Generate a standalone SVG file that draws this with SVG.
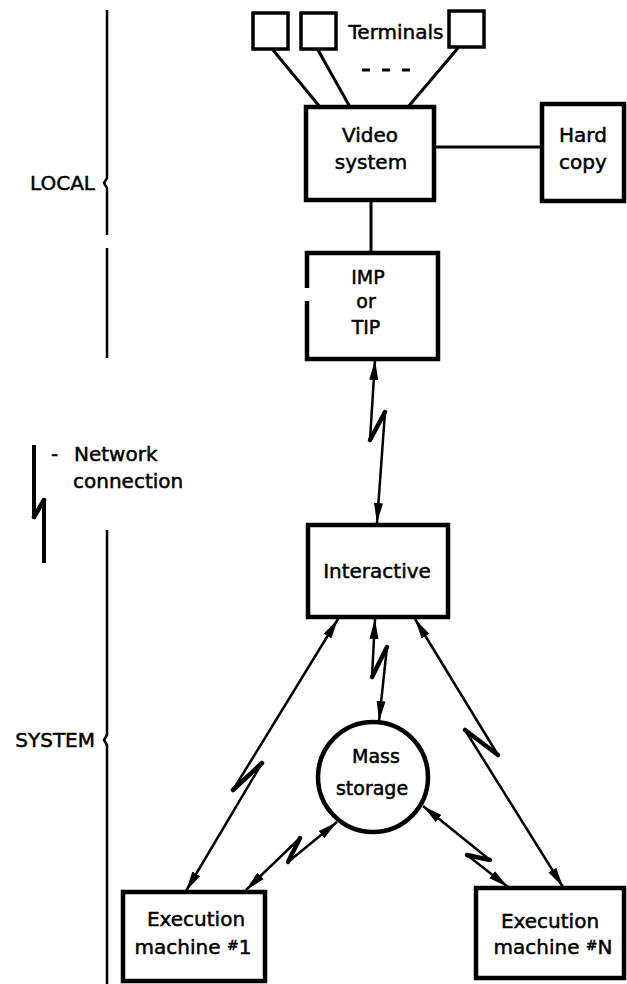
<svg xmlns="http://www.w3.org/2000/svg" width="627" height="984" viewBox="0 0 627 984">
<style>
.box{fill:#fff;stroke:#000;stroke-width:4.5}
.tbox{fill:#fff;stroke:#000;stroke-width:3.5}
.ln{fill:none;stroke:#000;stroke-width:3}
.cn{fill:none;stroke:#000;stroke-width:2.5;stroke-linejoin:round}
.zig{fill:none;stroke:#000;stroke-width:4.5;stroke-linecap:round}
.br{fill:none;stroke:#000;stroke-width:2.5}
text{font-family:"DejaVu Sans","Liberation Sans",sans-serif;font-size:20px;fill:#000;stroke:#000;stroke-width:0.5;text-anchor:middle}
.s{font-size:19px}
.lab{text-anchor:start}
.side{text-anchor:end}
</style>
<defs>
<marker id="ah" viewBox="0 0 20 10" refX="20" refY="5" markerWidth="20" markerHeight="10" markerUnits="userSpaceOnUse" orient="auto-start-reverse">
<path d="M0,0.5 L20,5 L0,9.5 z" fill="#000"/>
</marker>
</defs>
<rect width="627" height="984" fill="#fff"/>

<g id="brackets">
<path class="br" d="M107,10 L107,178 L104,183 L107,188 L107,235 M107,248 L107,358"/>
<path class="br" d="M107,530 L107,735 L104,740 L107,745 L107,984"/>
<text class="side" x="95" y="190">LOCAL</text>
<text class="side" x="95" y="747">SYSTEM</text>
</g>

<g id="legend">
<path class="ln" style="stroke-width:4" d="M34,445 L34,517"/>
<path class="zig" d="M34,517 L44,500"/>
<path class="ln" style="stroke-width:4" d="M44,500 L44,563"/>
<text class="lab"><tspan x="51" y="461">-</tspan><tspan x="74" y="461">Network</tspan></text>
<text class="lab" x="73" y="488">connection</text>
</g>

<g id="connectors">
<line class="ln" x1="273" y1="50" x2="320" y2="107"/>
<line class="ln" x1="318" y1="50" x2="350" y2="107"/>
<line class="ln" x1="458" y1="48" x2="408" y2="107"/>
<line class="ln" x1="434" y1="147" x2="542" y2="147"/>
<line class="ln" x1="371" y1="200" x2="371" y2="253"/>
<g id="dashes">
<line class="ln" x1="362" y1="70" x2="370" y2="70"/>
<line class="ln" x1="382" y1="70" x2="390" y2="70"/>
<line class="ln" x1="402" y1="70" x2="410" y2="70"/>
</g>
<polyline class="cn" points="375,360 370,440 385,412 377,523" marker-start="url(#ah)" marker-end="url(#ah)"/>
<path class="zig" d="M370,440 L385,412"/>
<polyline class="cn" points="375,619 372,677 387,647 379,721" marker-start="url(#ah)" marker-end="url(#ah)"/>
<path class="zig" d="M372,677 L387,647"/>
<polyline class="cn" points="338,619 233,790 262,763 186,891" marker-start="url(#ah)" marker-end="url(#ah)"/>
<path class="zig" d="M233,790 L262,763"/>
<polyline class="cn" points="415,619 498,755 465,730 563,887" marker-start="url(#ah)" marker-end="url(#ah)"/>
<path class="zig" d="M498,755 L465,730"/>
<polyline class="cn" points="337,822 288,862 300,838 246,890" marker-start="url(#ah)" marker-end="url(#ah)"/>
<path class="zig" d="M288,862 L300,838"/>
<polyline class="cn" points="423,806 490,860 467,855 508,887" marker-start="url(#ah)" marker-end="url(#ah)"/>
<path class="zig" d="M490,860 L467,855"/>
</g>

<g id="terminal1"><rect class="tbox" x="253" y="13" width="35" height="36"/></g>
<g id="terminal2"><rect class="tbox" x="301" y="13" width="35" height="36"/></g>
<g id="terminal3"><rect class="tbox" x="449" y="11" width="35" height="36"/></g>
<g id="terminals-label"><text x="396" y="39">Terminals</text></g>

<g id="video">
<rect class="box" x="306" y="107" width="128" height="93"/>
<text x="370" y="142">Video</text>
<text x="371" y="169">system</text>
</g>

<g id="hardcopy">
<rect class="box" x="542" y="104" width="82" height="97"/>
<text x="583" y="142">Hard</text>
<text x="583" y="169">copy</text>
</g>

<g id="imp">
<rect class="box" x="307" y="253" width="131" height="106"/>
<rect x="303" y="288" width="7" height="13" fill="#fff"/>
<text class="s" x="368" y="284">IMP</text>
<text class="s" x="366" y="308">or</text>
<text class="s" x="366" y="334">TIP</text>
</g>

<g id="interactive">
<rect class="box" x="308" y="525" width="140" height="92"/>
<text x="377" y="578">Interactive</text>
</g>

<g id="mass">
<circle cx="373" cy="777" r="55" fill="#fff" stroke="#000" stroke-width="4.5"/>
<text class="s" x="376" y="763">Mass</text>
<text class="s" x="372" y="795">storage</text>
</g>

<g id="exec1">
<rect class="box" x="123" y="892" width="142" height="89"/>
<text x="196" y="926">Execution</text>
<text x="193" y="954">machine <tspan font-size="14" dy="-4">#</tspan><tspan dy="4">1</tspan></text>
</g>

<g id="execN">
<rect class="box" x="476" y="888" width="148" height="90"/>
<text x="550" y="928">Execution</text>
<text x="553" y="954">machine <tspan font-size="14" dy="-4">#</tspan><tspan dy="4">N</tspan></text>
</g>
</svg>
